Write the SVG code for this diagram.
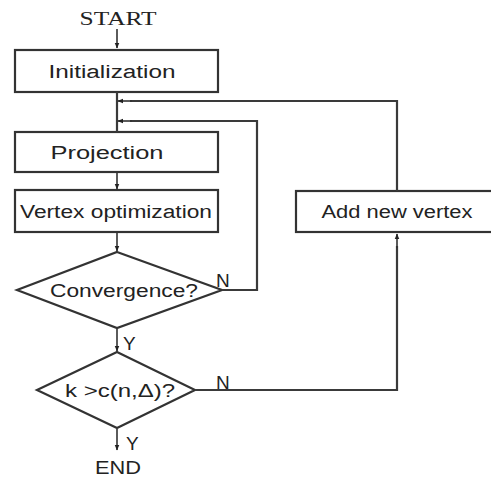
<svg xmlns="http://www.w3.org/2000/svg" width="491" height="478" viewBox="0 0 491 478">
  <defs>
    <marker id="head" viewBox="0 0 10 10" refX="9" refY="5" markerWidth="6" markerHeight="6" markerUnits="userSpaceOnUse" orient="auto">
      <path d="M0,1 L10,5 L0,9 Z" fill="#222"/>
    </marker>
  </defs>
  <style>
    .shape { fill: #fff; stroke: #333; stroke-width: 2.2; }
    .lbl { font-family: "Liberation Sans", "DejaVu Sans", sans-serif; font-size: 18px; fill: #222; text-anchor: middle; }
    .term { font-family: "Liberation Serif", "DejaVu Serif", serif; font-size: 18px; fill: #222; text-anchor: middle; }
    .yn { font-family: "Liberation Sans", "DejaVu Sans", sans-serif; font-size: 19px; fill: #222; }
    .wire { fill: none; stroke: #3a3a3a; stroke-width: 2.2; }
    .arrow { fill: none; stroke: #333; stroke-width: 1.6; marker-end: url(#head); }
  </style>
  <rect width="491" height="478" fill="#fff"/>

  <g id="start">
    <text class="term" x="118" y="25" textLength="77" lengthAdjust="spacingAndGlyphs">START</text>
  </g>

  <g id="initialization">
    <rect class="shape" x="15" y="50" width="203" height="42"/>
    <text class="lbl" x="112" y="78" textLength="127" lengthAdjust="spacingAndGlyphs">Initialization</text>
  </g>

  <g id="projection">
    <rect class="shape" x="15" y="132" width="203" height="40"/>
    <text class="lbl" x="107" y="159" textLength="113" lengthAdjust="spacingAndGlyphs">Projection</text>
  </g>

  <g id="vertex-optimization">
    <rect class="shape" x="15" y="190" width="203" height="42"/>
    <text class="lbl" x="116" y="218" textLength="192" lengthAdjust="spacingAndGlyphs">Vertex optimization</text>
  </g>

  <g id="convergence">
    <polygon class="shape" points="117,252 222,290 117,328 17,290"/>
    <text class="lbl" x="124" y="297" textLength="148" lengthAdjust="spacingAndGlyphs">Convergence?</text>
  </g>

  <g id="size-check">
    <polygon class="shape" points="117,352 195,390 117,428 37,390"/>
    <text class="lbl" x="120" y="397" textLength="110" lengthAdjust="spacingAndGlyphs">k &gt;c(n,Δ)?</text>
  </g>

  <g id="add-vertex">
    <rect class="shape" x="296" y="191" width="205" height="41"/>
    <text class="lbl" x="397" y="218" textLength="151" lengthAdjust="spacingAndGlyphs">Add new vertex</text>
  </g>

  <g id="end">
    <text class="lbl" x="118" y="474" font-size="20" textLength="46" lengthAdjust="spacingAndGlyphs">END</text>
  </g>

  <g id="connectors">
    <!-- main downward flow -->
    <line class="arrow" x1="117" y1="29" x2="117" y2="48"/>
    <line class="wire" x1="117" y1="92" x2="117" y2="132"/>
    <line class="arrow" x1="117" y1="173" x2="117" y2="189"/>
    <line class="arrow" x1="117" y1="233" x2="117" y2="251"/>
    <line class="arrow" x1="117" y1="329" x2="117" y2="351"/>
    <line class="arrow" x1="117" y1="429" x2="117" y2="450"/>

    <!-- N from convergence: back to projection -->
    <polyline class="wire" points="222,290 257,290 257,121 130,121"/>
    <line class="arrow" x1="132" y1="121" x2="118" y2="121"/>

    <!-- N from size check: up to add vertex, then back to top -->
    <polyline class="wire" points="195,390 397,390 397,246"/>
    <line class="arrow" x1="397" y1="248" x2="397" y2="234"/>
    <polyline class="wire" points="397,191 397,101 130,101"/>
    <line class="arrow" x1="132" y1="101" x2="118" y2="101"/>

    <!-- branch labels -->
    <text class="yn" x="216" y="287">N</text>
    <text class="yn" x="216" y="389">N</text>
    <text class="yn" x="123" y="350">Y</text>
    <text class="yn" x="126" y="450">Y</text>
  </g>
</svg>
